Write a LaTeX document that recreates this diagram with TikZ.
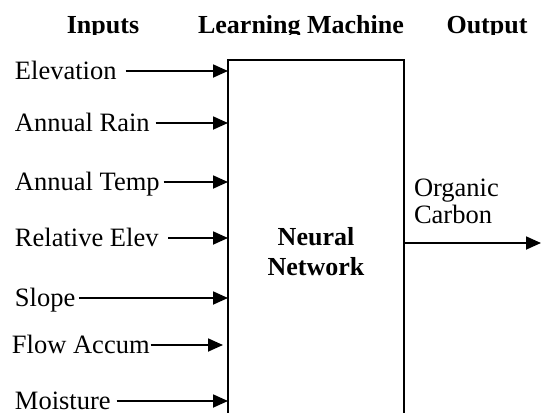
\documentclass[tikz,border=0pt]{standalone}
\usepackage{fontspec}
\setmainfont{Liberation Serif}
\usetikzlibrary{arrows.meta}
\begin{document}
\begin{tikzpicture}[x=1pt,y=-1pt,
  every node/.style={inner sep=0pt, outer sep=0pt, font=\fontsize{26.5}{30}\selectfont},
  inp/.style={anchor=west, text height=17pt, text depth=0pt},
  head/.style={anchor=base, font=\fontsize{26}{30}\selectfont\bfseries},
  arr/.style={line width=1.8pt, -{Triangle[length=15pt,width=13pt]}},
  boxstyle/.style={draw, line width=1.8pt, minimum width=176pt, minimum height=390pt, anchor=north west}]
\useasboundingbox (0,0) rectangle (542,413);
\clip (0,0) rectangle (542,413);
% headings (clipped at their baseline as in the reference)
\begin{scope}
\clip (0,0) rectangle (542,34);
\node[head] (hin) at (103,33) {Inputs};
\node[head] (hlm) at (301,33) {Learning Machine};
\node[head] (hout) at (487,33) {Output};
\end{scope}
% learning machine box
\node[boxstyle] (box) at (228,60) {};
\node[font=\fontsize{26}{30}\selectfont\bfseries, align=center] (nn) at (316,252) {Neural\\Network};
% inputs
\node[inp] (elev) at (15,71) {Elevation};
\node[inp] (rain) at (15,123) {Annual Rain};
\node[inp] (temp) at (15,182) {Annual Temp};
\node[inp] (rel) at (15,238) {Relative Elev};
\node[inp] (slope) at (15,298) {Slope};
\node[inp] (flow) at (12,345) {Flow Accum};
\node[inp] (moist) at (15,401) {Moisture};
\draw[arr] ([xshift=9pt]elev.east) -- (elev.east -| box.west);
\draw[arr] ([xshift=6pt]rain.east) -- (rain.east -| box.west);
\draw[arr] ([xshift=4pt]temp.east) -- (temp.east -| box.west);
\draw[arr] ([xshift=10pt]rel.east) -- (rel.east -| box.west);
\draw[arr] ([xshift=4pt]slope.east) -- (slope.east -| box.west);
\draw[arr] ([xshift=1pt]flow.east) -- ([xshift=-5pt]flow.east -| box.west);
\draw[arr] ([xshift=6pt]moist.east) -- (moist.east -| box.west);
% output
\coordinate (outend) at (541,243);
\draw[arr] (outend -| box.east) -- (outend);
\node[font=\fontsize{26.5}{27}\selectfont, align=left, anchor=west] (oc) at (414,201) {Organic\\Carbon};
\end{tikzpicture}
\end{document}
